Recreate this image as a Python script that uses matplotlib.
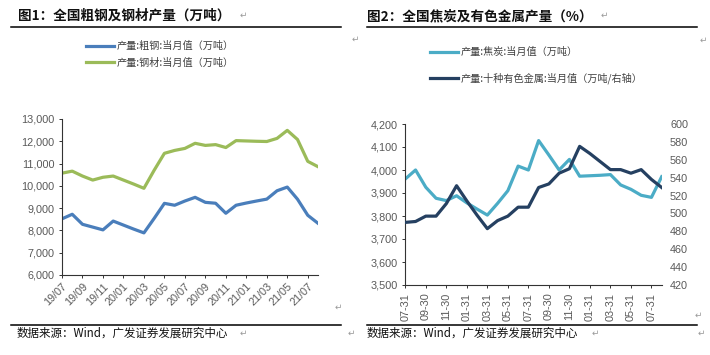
import matplotlib
matplotlib.use('Agg')
import matplotlib.pyplot as plt
import numpy as np

plt.rcParams['font.family'] = ['Liberation Sans', 'Noto Sans CJK SC', 'DejaVu Sans']
plt.rcParams['axes.unicode_minus'] = False

# 图1 数据：2019/07 - 2021/08 月度
months1 = ['19/07', '19/08', '19/09', '19/10', '19/11', '19/12',
           '20/01', '20/02', '20/03', '20/04', '20/05', '20/06',
           '20/07', '20/08', '20/09', '20/10', '20/11', '20/12',
           '21/01', '21/02', '21/03', '21/04', '21/05', '21/06',
           '21/07', '21/08']
crude_steel = [8520, 8725, 8275, 8150, 8025, 8420, 8240, 8060, 7890, 8540,
               9215, 9130, 9320, 9485, 9260, 9220, 8770, 9130, 9230, 9320,
               9405, 9780, 9945, 9400, 8680, 8320]
steel_prod = [10570, 10660, 10440, 10260, 10385, 10440, 10260, 10080, 9890, 10700,
              11460, 11590, 11680, 11910, 11815, 11850, 11720, 12030, 12015, 12000,
              11990, 12130, 12490, 12080, 11100, 10860]

# 图2 数据
coke = [3961, 4000, 3925, 3877, 3867, 3888, 3857, 3830, 3804, 3855,
        3910, 4017, 4000, 4128, 4065, 4000, 4046, 3973, 3975, 3977,
        3980, 3935, 3916, 3890, 3881, 3971]
nonferrous = [490, 491, 497, 497, 511, 531, 514, 498, 483, 492,
              497, 507, 507, 529, 533, 545, 550, 575, 567, 558,
              549, 549, 545, 549, 538, 529]
xlabels2 = ['07-31', '09-30', '11-30', '01-31', '03-31', '05-31', '07-31',
            '09-30', '11-30', '01-31', '03-31', '05-31', '07-31']

W, H = 710, 355
fig = plt.figure(figsize=(7.1, 3.55), dpi=100)
fig.patch.set_facecolor('white')

tick_c = '#595959'
cjk = ['Noto Sans CJK SC', 'DejaVu Sans']

def style_ax(ax):
    for s in ['top', 'right']:
        ax.spines[s].set_visible(False)
    for s in ['left', 'bottom']:
        ax.spines[s].set_color('#333333')
        ax.spines[s].set_linewidth(0.8)
    ax.tick_params(axis='both', direction='out', length=2.5, width=0.7,
                   colors='#333333', labelcolor=tick_c, labelsize=7.8, pad=3)

# ---------- 图1 ----------
ax1 = fig.add_axes([62 / W, 1 - 275 / H, 256 / W, 156 / H])
style_ax(ax1)
x1 = np.arange(len(months1))
l1, = ax1.plot(x1, crude_steel, color='#4A7EBB', lw=2.3, solid_joinstyle='round')
l2, = ax1.plot(x1, steel_prod, color='#9BBB59', lw=2.3, solid_joinstyle='round')
ax1.set_xlim(0, len(months1) - 1)
ax1.set_ylim(6000, 13000)
ax1.set_yticks(np.arange(6000, 13001, 1000))
ax1.set_yticklabels(['{:,}'.format(v) for v in range(6000, 13001, 1000)])
ax1.set_xticks(x1[::2])
ax1.set_xticklabels(months1[::2], rotation=45, ha='right', rotation_mode='anchor')
ax1.tick_params(axis='x', pad=2)

fig.legend([l1, l2], ['产量:粗钢:当月值（万吨）', '产量:钢材:当月值（万吨）'],
           loc='upper left', bbox_to_anchor=(86 / W, 1 - 41 / H), frameon=False,
           prop={'family': cjk, 'size': 7.3}, labelcolor='#404040',
           handlelength=2.8, handletextpad=0.25, labelspacing=0.62,
           borderpad=0, borderaxespad=0)

# ---------- 图2 ----------
ax2 = fig.add_axes([405.3 / W, 1 - 285 / H, 256.4 / W, 161 / H])
style_ax(ax2)
x2 = np.arange(len(coke))
l3, = ax2.plot(x2, coke, color='#4BACC6', lw=2.3, solid_joinstyle='round')
ax2.set_xlim(0, len(coke) - 1)
ax2.set_ylim(3500, 4200)
ax2.set_yticks(np.arange(3500, 4201, 100))
ax2.set_yticklabels(['{:,}'.format(v) for v in range(3500, 4201, 100)])
ax2.set_xticks(x2[::2])
ax2.set_xticklabels(xlabels2, rotation=90, ha='center', va='top')
ax2.tick_params(axis='x', pad=3)

ax3 = ax2.twinx()
for s in ['top', 'right', 'left', 'bottom']:
    ax3.spines[s].set_visible(False)
l4, = ax3.plot(x2, nonferrous, color='#254061', lw=2.3, solid_joinstyle='round')
ax3.set_ylim(420, 600)
ax3.set_yticks(np.arange(420, 601, 20))
ax3.tick_params(axis='y', length=0, labelcolor=tick_c, labelsize=7.8, pad=6)

fig.legend([l3, l4], ['产量:焦炭:当月值（万吨）', '产量:十种有色金属:当月值（万吨/右轴）'],
           loc='upper left', bbox_to_anchor=(430 / W, 1 - 47 / H), frameon=False,
           prop={'family': cjk, 'size': 7.3}, labelcolor='#404040',
           handlelength=2.8, handletextpad=0.25, labelspacing=1.55,
           borderpad=0, borderaxespad=0)

# ---------- 标题、分隔线、来源 ----------
fig.text(18 / W, 1 - 16 / H, '图1：全国粗钢及钢材产量（万吨）', family=cjk,
         fontsize=9.8, fontweight='bold', color='#111111', va='center')
fig.text(367 / W, 1 - 16 / H, '图2：全国焦炭及有色金属产量（%）', family=cjk,
         fontsize=9.8, fontweight='bold', color='#111111', va='center')
for xa, xb in [(11, 341), (367, 697)]:
    fig.add_artist(plt.Line2D([xa / W, xb / W], [1 - 27 / H, 1 - 27 / H],
                              color='black', lw=1.1))
    fig.add_artist(plt.Line2D([xa / W, xb / W], [1 - 325 / H, 1 - 325 / H],
                              color='black', lw=1.1))
fig.text(17 / W, 1 - 333 / H, '数据来源：Wind，广发证券发展研究中心', family=cjk,
         fontsize=8.3, color='#111111', va='center')
fig.text(367 / W, 1 - 333 / H, '数据来源：Wind，广发证券发展研究中心', family=cjk,
         fontsize=8.3, color='#111111', va='center')

# Word 段落标记
marks = [(240, 15), (601, 15), (352, 39), (700, 40), (335, 307), (695, 315),
         (240, 333), (348, 333), (592, 333), (698, 333)]
for mx, my in marks:
    fig.text(mx / W, 1 - my / H, '↵', family=['DejaVu Sans'], fontsize=6.5,
             color='#9a9a9a', va='center')

fig.savefig('out.png', dpi=100, facecolor='white')
